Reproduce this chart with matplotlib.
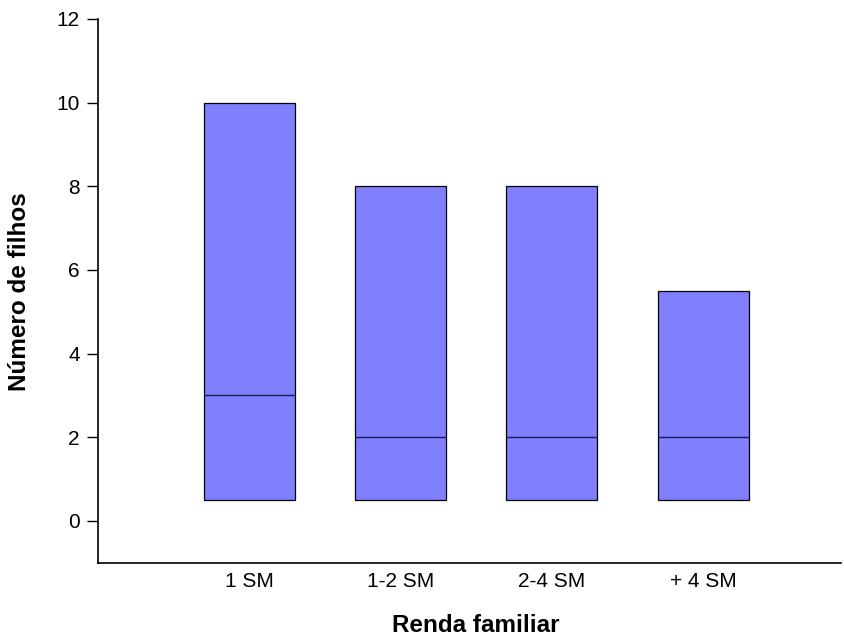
import matplotlib.pyplot as plt

# Número de filhos por faixa de renda (caixa: mínimo-máximo, linha: mediana)
faixas = ['1 SM', '1-2 SM', '2-4 SM', '+ 4 SM']
minimos = [0.5, 0.5, 0.5, 0.5]
maximos = [10, 8, 8, 5.5]
medianas = [3, 2, 2, 2]

plt.rcParams['font.family'] = ['Liberation Sans', 'DejaVu Sans']

fig = plt.figure(figsize=(8.44, 6.39), dpi=100)
ax = fig.add_axes([97.7 / 844, 1 - 562.7 / 639, (841 - 97.7) / 844, (562.7 - 19) / 639])

pos = list(range(1, len(faixas) + 1))
alturas = [mx - mn for mx, mn in zip(maximos, minimos)]
ax.bar(pos, alturas, bottom=minimos, width=0.6, color='#8080ff',
       edgecolor='black', linewidth=0.9)
for p, m in zip(pos, medianas):
    ax.hlines(m, p - 0.3, p + 0.3, color='#1a1a4d', linewidth=1.0)

ax.set_xlim(0, 4.91)
ax.set_ylim(-1, 12)
ax.set_yticks(range(0, 13, 2))
ax.set_xticks(pos)
ax.set_xticklabels(faixas)
ax.tick_params(axis='y', length=8, width=1, labelsize=15, pad=5)
ax.tick_params(axis='x', length=0, labelsize=15, pad=7)
ax.spines['top'].set_visible(False)
ax.spines['right'].set_visible(False)
ax.spines['left'].set_linewidth(1.2)
ax.spines['bottom'].set_linewidth(1.2)

fig.text(476 / 844, 1 - 625 / 639, 'Renda familiar', ha='center', va='center',
         fontsize=17.5, fontweight='bold')
fig.text(20 / 844, 1 - 292 / 639, 'Número de filhos', ha='center', va='center',
         rotation=90, fontsize=17.5, fontweight='bold')

fig.savefig('out.png', dpi=100)
